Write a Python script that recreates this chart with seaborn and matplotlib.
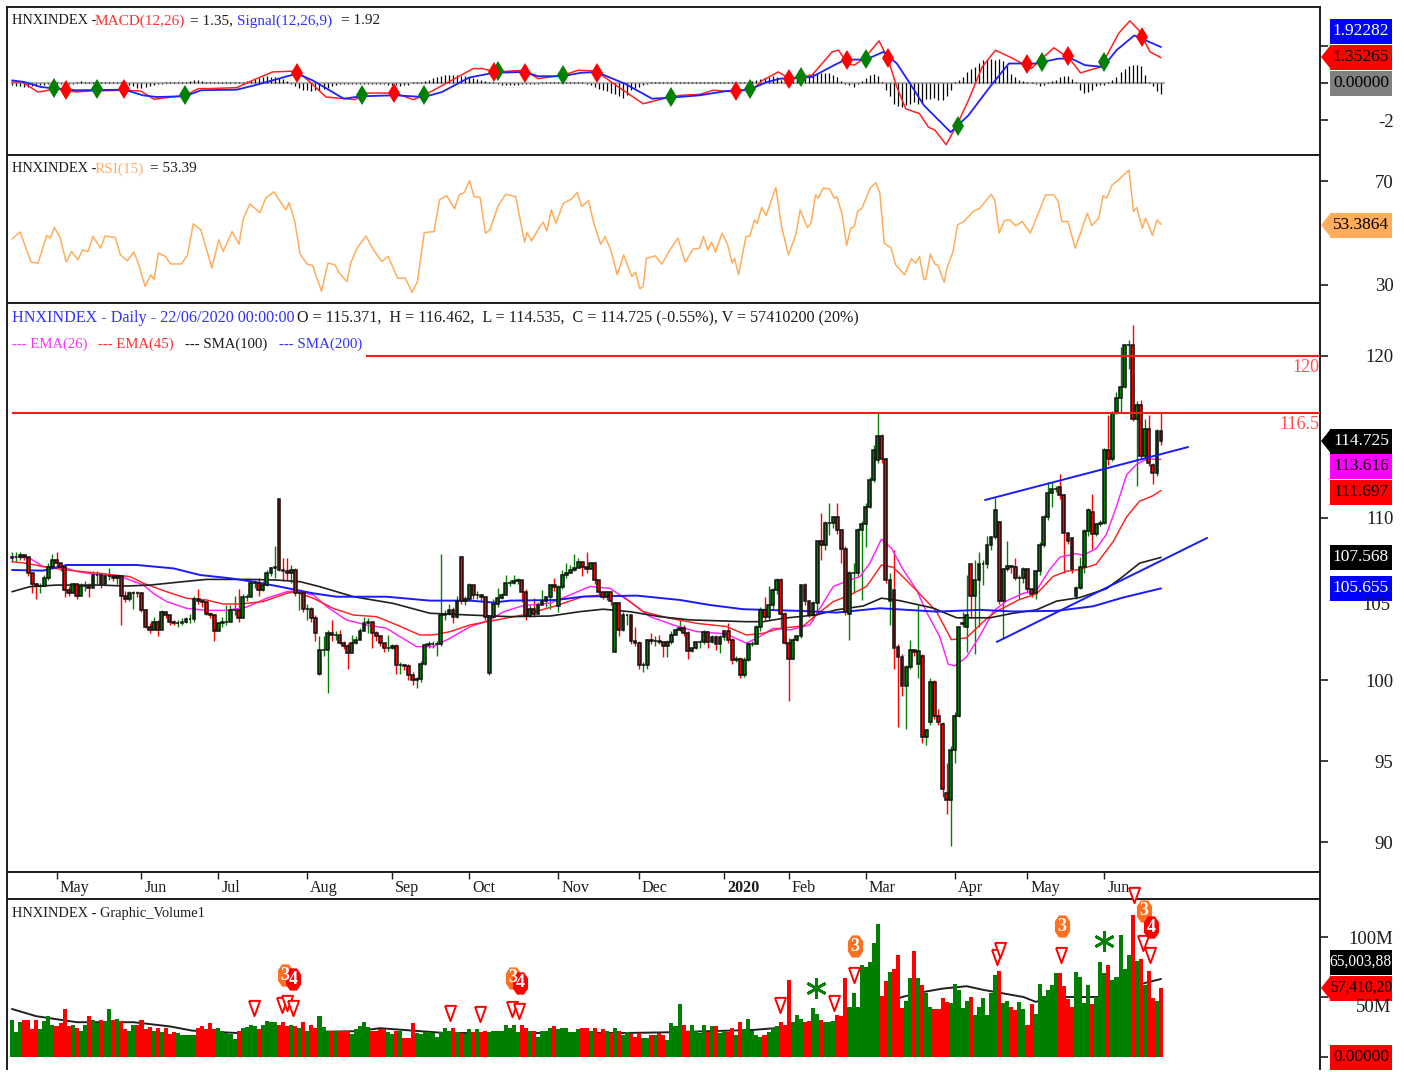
import numpy as np
import matplotlib
matplotlib.use('Agg')
import matplotlib.pyplot as plt
from matplotlib.patches import Rectangle, Polygon
import seaborn as sns

# Daily bars
opens = [107.5,107.6,107.6,107.7,107.6,106.6,105.9,105.8,105.8,106.3,
         107.0,107.4,107.2,107.0,105.55,105.4,105.9,105.2,105.8,105.8,
         105.7,106.5,106.5,105.9,106.4,106.4,106.3,106.4,105.2,105.0,
         105.35,105.4,105.35,104.3,103.3,103.1,103.6,103.1,104.2,104.0,
         103.6,103.5,103.5,103.6,103.75,103.75,105.0,104.9,104.8,104.1,
         104.0,103.0,103.5,103.55,103.6,104.3,104.3,103.8,105.1,105.15,
         106.0,106.0,105.55,105.85,106.6,106.9,111.15,106.8,106.75,106.6,
         106.8,105.35,105.35,104.4,104.4,103.8,100.4,101.85,101.85,102.9,
         102.8,102.8,102.3,102.1,101.65,102.3,102.5,103.0,103.5,103.6,
         102.9,102.7,102.3,102.0,102.0,102.1,100.9,100.9,100.85,100.3,
         100.0,100.05,101.0,102.15,102.25,102.25,102.25,104.0,104.05,104.35,
         103.9,107.6,104.85,105.0,105.85,105.25,105.25,105.15,100.45,103.9,
         104.7,105.05,105.25,106.0,106.0,106.1,106.15,105.45,103.95,104.4,
         104.1,104.6,104.85,105.1,105.85,104.55,105.75,106.5,106.6,106.8,
         106.9,107.3,107.0,106.85,107.2,106.2,105.45,105.15,105.45,101.75,
         104.75,103.1,104.0,104.0,102.4,102.3,100.9,100.9,102.5,102.4,
         102.4,102.35,102.1,102.35,102.8,103.1,103.2,102.9,101.8,101.95,
         102.35,102.35,102.95,102.35,102.65,102.25,102.65,103.0,102.5,101.25,
         101.3,100.3,101.25,102.25,102.25,103.3,104.3,103.9,104.65,105.55,
         106.2,104.1,102.3,101.3,102.5,102.7,105.85,104.85,104.0,104.75,
         108.55,108.35,109.7,109.7,110.05,109.25,108.1,104.1,106.6,106.6,
         109.25,109.6,110.7,112.35,113.6,115.05,113.64,104.9,105.55,102.05,
         101.4,99.6,100.8,101.85,101.0,101.5,96.5,97.4,99.9,97.8,
         97.3,93.05,92.6,95.7,97.8,103.45,103.25,107.15,105.2,106.2,
         107.15,107.15,108.35,108.8,109.75,104.85,106.85,107.05,107.0,106.3,
         106.3,106.85,105.6,105.4,106.7,108.35,110.05,111.55,111.8,111.9,
         111.4,109.1,108.75,105.2,105.7,107.0,109.2,110.4,109.0,109.6,
         109.7,114.2,113.65,116.55,117.4,118.1,120.67,120.67,116.1,117.0,
         113.85,115.5,113.3,112.75,115.371]
closes = [107.6,107.6,107.7,107.6,106.6,105.9,105.8,105.8,106.3,107.0,
          107.4,107.2,107.0,105.55,105.4,105.9,105.2,105.8,105.8,105.7,
          106.5,106.5,105.9,106.4,106.4,106.3,106.4,105.2,105.0,105.35,
          105.4,105.35,104.3,103.3,103.1,103.6,103.1,104.2,104.0,103.6,
          103.5,103.5,103.6,103.75,103.75,105.0,104.9,104.8,104.1,104.0,
          103.0,103.5,103.55,103.6,104.3,104.3,103.8,105.1,105.15,106.0,
          106.0,105.55,105.85,106.6,106.9,107.0,106.8,106.75,106.6,106.8,
          105.35,105.35,104.4,104.4,103.8,102.9,101.85,101.85,102.9,102.8,
          102.8,102.3,102.1,101.65,102.3,102.5,103.0,103.5,103.6,102.9,
          102.7,102.3,102.0,102.0,102.1,100.9,100.9,100.85,100.3,100.0,
          100.05,101.0,102.15,102.25,102.25,102.25,104.0,104.05,104.35,103.9,
          104.85,104.85,105.0,105.85,105.25,105.25,105.15,103.9,103.9,104.7,
          105.05,105.25,106.0,106.0,106.1,106.15,105.45,103.95,104.4,104.1,
          104.6,104.85,105.1,105.85,105.75,105.75,106.5,106.6,106.8,106.9,
          107.3,107.0,106.85,107.2,106.2,105.45,105.15,105.45,104.85,104.75,
          103.1,104.0,104.0,102.4,102.3,100.9,100.9,102.5,102.4,102.4,
          102.35,102.1,102.35,102.8,103.1,103.2,102.9,101.8,101.95,102.35,
          102.35,102.95,102.35,102.65,102.25,102.65,103.0,102.5,101.25,101.3,
          100.3,101.25,102.25,102.25,103.3,104.3,103.9,104.65,105.55,106.2,
          104.1,102.3,101.3,102.5,102.7,105.85,104.85,104.0,104.75,108.55,
          108.35,109.7,109.7,110.05,109.25,108.1,104.2,106.6,106.6,109.25,
          109.6,110.7,112.35,114.2,115.05,113.64,106.2,106.2,102.0,101.4,
          99.6,100.8,101.85,101.75,101.8,96.5,96.9,99.9,97.8,97.4,
          93.3,92.6,95.7,97.8,103.25,103.5,104.0,105.2,106.2,107.15,
          107.15,108.35,108.8,110.5,104.85,106.85,107.05,107.0,106.3,106.3,
          106.85,105.6,105.3,106.7,108.35,110.05,111.55,111.8,111.8,111.4,
          109.1,108.55,106.85,105.7,107.0,109.2,110.5,109.0,109.6,109.7,
          114.2,113.65,116.45,117.4,118.1,120.67,120.67,116.1,117.0,113.85,
          115.5,113.4,112.75,115.4,114.725]
highs = [107.9,107.9,107.9,107.8,106.8,106.6,106.0,106.0,106.5,107.2,
         107.8,107.9,107.2,107.1,105.8,106.0,105.9,106.0,106.1,106.0,
         106.7,106.7,106.6,106.6,106.9,106.5,106.5,106.5,105.5,105.5,
         105.5,105.5,105.45,104.4,103.5,103.9,103.7,104.3,104.2,104.0,
         103.7,103.7,103.8,103.9,104.1,105.2,105.6,105.0,104.9,104.2,
         104.1,103.6,103.9,104.6,104.6,105.2,105.6,105.3,105.3,106.2,
         106.2,106.3,106.1,106.8,107.0,108.3,111.2,107.5,107.5,107.1,
         106.9,105.5,105.4,104.7,104.5,104.0,102.7,102.7,103.1,103.7,
         103.0,103.1,102.4,102.3,102.8,102.7,103.2,103.9,103.8,103.2,
         103.0,102.7,102.3,102.8,102.2,102.2,101.1,101.0,101.0,100.5,
         100.2,101.2,102.3,102.4,102.4,102.4,107.8,104.3,104.7,104.5,
         105.2,107.65,105.2,106.0,105.7,105.5,105.3,105.2,103.95,105.0,
         105.65,105.4,106.5,106.2,106.5,106.3,106.2,105.6,104.6,105.05,
         104.8,105.55,105.2,105.9,106.3,105.85,106.8,107.2,107.1,107.8,
         107.5,107.2,107.9,107.3,106.4,105.6,105.3,105.5,105.1,104.8,
         104.8,104.2,104.1,104.0,103.3,102.4,101.1,102.55,102.9,102.7,
         102.8,102.4,102.5,103.0,103.2,103.7,103.4,103.0,102.0,102.4,
         102.5,103.1,102.9,102.8,102.8,102.8,103.1,103.5,102.6,101.5,
         101.4,101.4,102.35,102.4,103.4,104.5,105.15,105.8,105.7,106.3,
         106.3,104.2,102.6,102.6,102.8,105.9,106.0,104.9,104.9,108.6,
         110.3,109.8,110.9,110.1,110.9,109.3,108.3,106.7,107.2,109.4,
         109.8,110.9,112.5,114.5,116.5,115.2,113.7,106.6,108.0,102.2,
         101.6,100.9,102.5,101.9,104.65,101.6,97.0,100.1,100.0,98.2,
         97.4,94.9,95.9,98.0,103.3,104.2,106.5,107.2,107.4,107.9,
         107.4,108.9,108.9,111.25,109.8,106.9,108.55,107.1,107.5,106.5,
         107.0,106.9,105.7,106.8,108.5,110.2,112.2,112.2,112.0,112.7,
         111.5,108.7,108.8,105.8,107.6,109.3,110.6,111.5,109.7,109.9,
         114.3,116.35,116.6,117.75,120.55,120.75,121.0,121.9,117.2,117.3,
         116.1,116.35,113.4,115.5,116.462]
lows = [107.3,107.3,107.4,107.4,106.4,105.4,105.0,105.4,106.0,106.2,
        107.0,107.0,106.7,105.1,105.2,105.6,105.0,105.6,105.5,105.1,
        106.2,105.9,105.7,106.1,106.2,106.1,105.9,103.4,104.8,104.9,
        104.4,105.1,104.2,103.2,102.9,103.3,102.7,103.9,103.8,103.4,
        103.4,103.3,103.4,103.5,103.5,103.6,104.7,104.5,104.0,103.8,
        102.4,103.3,103.3,103.4,103.9,104.0,103.6,104.4,104.9,105.5,
        105.7,105.2,105.5,105.8,106.4,106.3,106.7,106.1,106.2,106.0,
        105.2,104.3,104.2,103.7,103.6,102.4,100.3,101.5,99.2,102.4,
        102.5,102.2,101.9,100.7,102.0,102.2,102.7,103.2,102.9,102.0,
        102.4,102.1,101.7,101.8,101.9,100.4,100.4,100.6,100.0,99.7,
        99.5,99.9,100.9,102.0,102.0,101.5,102.1,103.7,104.0,103.5,
        103.8,104.7,104.6,104.9,105.0,105.0,104.9,103.7,100.3,103.8,
        104.5,105.0,105.6,105.8,105.9,105.9,104.8,103.7,103.9,103.9,
        104.4,104.6,104.5,104.4,105.5,104.2,105.6,106.3,106.6,106.7,
        107.0,106.4,106.6,106.9,105.9,105.2,105.0,104.95,104.6,101.7,
        102.7,103.0,103.4,102.2,102.1,100.7,100.5,100.7,102.2,102.1,
        102.2,101.4,101.4,102.2,102.9,103.0,102.7,101.3,101.7,101.9,
        101.95,102.2,101.95,102.3,101.85,101.65,102.5,102.3,101.0,101.1,
        100.1,100.2,101.2,102.1,102.2,103.0,103.7,103.7,104.4,105.3,
        103.3,102.2,98.7,101.3,102.4,102.6,104.6,103.9,103.7,104.0,
        107.4,108.0,108.95,109.4,109.0,107.2,104.0,102.5,105.35,106.4,
        104.95,108.2,110.6,112.2,113.4,113.4,106.0,103.4,100.65,97.1,
        99.0,97.0,100.7,101.5,100.1,96.1,96.0,97.2,97.6,97.2,
        92.75,91.7,89.75,94.9,97.7,103.3,101.75,103.8,101.6,103.25,
        105.85,106.9,108.0,108.7,104.7,102.6,106.7,106.6,106.2,105.0,
        106.0,105.4,105.1,105.0,106.5,108.2,109.9,110.7,111.6,111.2,
        106.6,108.4,106.6,105.0,105.6,106.6,108.9,108.1,108.9,109.5,
        109.6,113.3,113.5,116.4,116.5,118.0,119.2,116.0,112.0,113.7,
        113.6,113.2,112.1,112.6,114.535]
volumes = [31,21,29,31,31,23,31,23,30,34,
           27,26,28,40,26,27,24,22,27,34,
           31,28,31,29,40,31,32,30,23,22,
           27,27,31,23,25,22,24,21,24,19,
           21,20,18,18,18,18,24,26,23,28,
           23,24,22,20,19,15,22,24,25,27,
           26,23,27,30,29,29,27,29,26,27,
           26,24,29,22,27,24,34,25,22,22,
           22,22,22,22,19,23,26,29,25,22,
           22,23,23,21,19,22,22,16,16,28,
           20,19,21,21,20,17,21,24,22,24,
           21,20,19,23,21,23,21,22,21,22,
           22,22,27,24,27,21,27,24,22,22,
           17,22,22,24,26,23,24,24,21,21,
           23,24,24,22,24,20,23,22,20,24,
           22,18,21,19,17,20,16,16,18,18,
           20,18,14,28,26,44,27,22,27,22,
           20,27,21,26,26,20,22,21,24,18,
           29,23,32,22,18,17,18,21,24,26,
           29,27,64,29,35,32,29,30,41,36,
           31,29,29,30,35,34,66,42,53,42,
           77,75,79,95,111,51,63,71,73,85,
           41,47,66,88,66,60,53,42,40,40,
           49,46,45,61,56,41,47,50,35,42,
           49,35,53,68,72,45,47,42,39,46,
           40,27,44,36,61,51,56,60,70,70,
           59,48,42,71,67,45,60,44,50,79,
           70,77,64,67,102,73,85,118,80,82,
           60,72,49,47,57.41]
macd_hist = [-.12,-.15,-.18,-.2,-.2,-.18,-.15,-.12,-.1,-.08,
             .06,.06,-.06,.06,-.06,-.08,.06,.08,.06,.05,
             .04,.05,.06,.05,.06,.06,.05,.04,-.08,-.1,
             -.15,-.25,-.25,-.2,-.15,-.1,-.06,-.05,.05,.05,
             .05,.05,.05,.06,.12,.15,.15,.1,.05,.04,
             .04,.05,.05,.05,.04,.05,.05,.06,.08,.12,
             .2,.25,.3,.35,.3,.3,.25,.2,.1,-.06,
             -.15,-.25,-.35,-.4,-.45,-.4,-.35,-.3,-.25,-.15,
             -.1,-.08,-.06,-.06,-.05,-.08,-.06,-.05,-.06,-.05,
             -.06,-.05,-.05,-.1,-.1,-.1,-.15,-.12,-.1,.05,
             .06,.06,.1,.18,.25,.3,.35,.4,.42,.45,
             .4,.38,.35,.3,.25,.2,.15,.1,.05,.04,
             -.06,-.12,-.12,-.12,-.1,-.1,-.05,-.05,-.06,-.08,
             -.05,.05,.05,.05,.05,.06,.05,.04,.04,.05,
             .05,.05,-.04,-.12,-.2,-.3,-.38,-.45,-.55,-.6,
             -.7,-.8,-.65,-.4,-.25,-.2,-.1,-.06,.05,.05,
             .04,.04,.04,.04,.04,.04,.04,.04,.04,.04,
             .04,.04,.04,.04,.04,.04,.04,.04,.04,.04,
             .04,.04,.05,.1,.15,.2,.25,.3,.35,.3,
             .15,.1,.08,.1,.2,.3,.4,.5,.55,.55,
             .55,.55,.55,.45,.3,.1,-.05,-.1,-.2,-.05,
             .1,.25,.4,.5,.35,.05,-.4,-.7,-1.1,-1.25,
             -1.3,-1.2,-1.1,-1.0,-1.15,-1.05,-.85,-.85,-.8,-.9,
             -.9,-.7,-.4,.05,.15,.3,.6,.75,.85,1.05,
             1.25,1.3,1.3,1.25,1.3,1.15,.9,.5,.3,.15,
             .08,.05,.04,-.08,-.15,-.1,.05,.1,.15,.3,
             .35,.35,.2,.05,-.35,-.55,-.5,-.35,-.15,-.12,
             -.1,.05,.15,.3,.6,.75,.9,.95,.95,.9,
             .4,.05,-.15,-.45,-.57]

# Moving averages: bar position, value
ema26_x = [0,4.4,7.7,13.5,16,20.9,26.7,32.5,34.9,38.2,43.2,48.1,53,58,62.9,67.9,69.9,74.5,77.8,82.7,87.6,92.6,95.9,100,104.1,108.2,113.2,
           118.1,121.4,126.4,133,137.9,142.8,147.8,152.7,157.7,163.4,169.2,176.6,181.5,184.8,188.1,192.3,197.2,199.7,203,207.1,209.6,212,214.9,217.4,220.3,223.6,226,229.3,
           231.4,233,235.9,239.2,242.5,245.8,249.9,253.2,256.5,259,263.1,264.7,268,270.5,273,275.5,278,280.4,284]
ema26_y = [107.61,107.51,107.0,106.9,106.7,106.5,106.4,105.86,105.35,104.84,104.42,104.3,104.3,104.5,105.04,105.45,105.5,105.25,104.53,103.7,103.4,103.19,102.67,102.06,102.06,102.57,103.29,
           103.7,104.2,104.6,104.74,105.25,105.77,105.66,104.84,103.91,103.4,102.99,102.84,102.27,102.68,103.19,103.09,103.4,104.43,105.77,106.18,106.38,107.2,108.69,108.13,106.79,105.56,104.22,102.68,
           100.98,100.87,101.41,102.71,104.23,104.88,105.35,105.52,106.82,107.58,107.8,107.69,108.12,108.99,110.72,112.67,113.32,113.64,113.616]
ema45_x = [0,3.6,7.7,13.5,21.7,29.2,32.5,38.2,43.2,48.1,52.2,56.3,62.1,67.9,69.9,74.5,79.4,84.4,90.1,95.1,100.8,104.1,108.2,113.2,
           119.8,126.4,133.8,141.2,146.1,151.1,156,162.6,169.2,176.6,181.5,185.7,189.8,195.6,198.8,203,207.1,211.2,214.9,217.8,
           223.6,228.5,232.2,235.9,240.9,243.3,249.1,253.2,257.3,260.6,263.9,268,272.2,275.5,278.7,282,284]
ema45_y = [107.3,107.2,107.0,106.79,106.58,106.38,105.97,105.45,105.04,104.94,104.69,104.69,104.84,105.35,105.45,105.04,104.42,104.01,103.91,103.4,102.78,102.78,102.98,103.4,
           103.71,104.02,104.53,105.15,105.25,105.15,104.22,103.81,103.5,103.3,102.78,102.88,103.19,103.34,104.02,104.84,105.25,105.77,107.1,106.96,
           105.52,104.23,102.49,102.6,103.79,104.23,104.98,105.31,106.39,106.71,106.82,107.15,108.55,110.07,111.04,111.37,111.697]
sma100_x = [0,4.4,11,21.7,28.3,34.1,42.3,48.1,58.8,65.4,71.2,76.1,84.4,94.2,103.3,113.2,
            123.1,133,140.4,146.1,152.7,160.1,167.5,181.5,185.7,190.6,198.8,203.8,210.4,214.9,219.4,
            227.7,233.5,241.7,247.4,253.2,258.2,263.9,270.5,274.6,278.7,284]
sma100_y = [105.45,105.76,105.86,105.86,105.8,105.86,106.07,106.21,106.21,106.17,106.07,105.76,105.14,104.73,104.12,104.01,
            103.91,103.95,104.22,104.37,104.22,103.91,103.71,103.6,103.6,103.81,104.02,104.33,104.57,105.05,104.9,
            104.44,103.84,103.84,104.12,104.33,104.87,105.09,105.63,106.39,107.21,107.568]
sma200_x = [0,7.7,13.5,30.8,39.9,46.5,53.9,59.6,65.4,74.5,80.2,92.6,103.3,113.2,
            118.9,123.1,134.6,141.2,154.4,165.1,172.5,180.7,195.6,203.8,214.5,228.6,
            239.2,247.4,258.2,267.2,274.6,284]
sma200_y = [106.79,106.75,107.1,107.1,106.89,106.48,106.28,106.07,105.8,105.35,105.14,105.14,104.9,104.9,
            104.78,104.9,104.94,105.15,105.21,104.94,104.63,104.37,104.26,104.16,104.43,104.22,
            104.33,104.23,104.27,104.55,105.09,105.655]

# Two price levels and two drawn trend lines
level_values = [120, 116.5]
level_starts = [87.5, 0]
trend1_x = [240.5, 290.7]
trend1_y = [111.11, 114.38]
trend2_x = [243.4, 295.4]
trend2_y = [102.35, 108.77]

# MACD lines
macd_x = [0,2.5,6.4,8.1,10.8,15.8,19.6,27.9,31.8,35.1,42.8,46.1,48.9,55.5,59.9,64.4,70.4,73.2,77.6,84.8,87.5,94.7,99.1,101.9,105.7,114,116.2,119.5,126.7,130,136.1,140,144.4,149.3,156,162.6,165.3,
          170,173.3,178.9,183.3,185.5,189.4,192.1,197.7,202.7,204.3,206.5,208.2,211,214.3,216.5,218.7,220.9,224.3,226.5,228.1,230.9,233.7,236.4,239.8,243.1,247.5,251.9,257.5,261.4,264.1,269.1,273.5,276.3,278.5,281.3,284]
macd_y = [.05,.05,-.48,-.43,-.3,-.48,-.43,-.39,-.43,-.87,-.66,-.3,-.3,-.25,.18,.59,.64,.14,-.75,-.89,-.54,-.54,-.89,-.66,-.21,.77,.77,.59,.68,.23,.41,.68,.64,-.13,-1.11,-.75,-.66,
          -.61,-.39,-.48,-.3,.14,.59,.23,.41,1.66,1.75,1.04,.95,1.39,2.25,1.3,-.21,-1.38,-1.64,-2.36,-2.52,-3.3,-2.18,-.93,.86,1.75,1.3,.77,1.88,1.3,.54,.86,2.64,3.32,2.82,1.66,1.35]
signal_x = [0,3.1,7,10.8,15.8,27.9,32.3,35.7,42.8,46.7,55.5,59.9,64.4,70.4,74.3,82,86.4,94.7,101.9,106.3,113,119,126.7,130,136.1,140.5,144.4,151.5,158.2,162.6,
            170,176.6,182.2,186.6,189.9,197.7,203.2,206,211,215.4,218.7,222,225.4,232,236.4,242,246.4,253,258.6,261.9,265.2,269.7,273,277.4,284]
signal_y = [.14,.05,-.21,-.3,-.39,-.36,-.66,-.75,-.71,-.39,-.36,-.13,.14,.5,.14,-.84,-.71,-.66,-.75,-.48,.29,.54,.59,.36,.36,.54,.59,-.04,-.84,-.79,
            -.66,-.43,-.36,.05,.23,.32,.95,1.25,1.25,1.66,1.04,-.04,-1.2,-2.63,-1.73,-.13,1.04,1.04,1.3,1.3,.95,.86,1.75,2.54,1.92]
cross_up_x = [10.5,21.1,42.8,86.4,101.9,120.1,136.1,162.8,182.5,194.9,211,233.7,254.7,269.9]
cross_up_y = [-.25,-.34,-.66,-.66,-.66,.63,.41,-.75,-.34,.32,1.30,-2.29,1.13,1.13]
cross_dn_x = [13.4,27.7,70.4,94.4,119.2,126.7,144.6,178.9,192.1,206.3,216.5,250.8,261.1,279.4]
cross_dn_y = [-.36,-.34,.55,-.54,.57,.55,.55,-.43,.21,1.21,1.36,1.04,1.43,2.46]

# RSI line
rsi_x = [0,2,4.7,6.4,8.6,9.4,10.5,11.9,13.4,14.7,16.3,17.4,18.8,20,21.9,23,25.5,26.8,28.5,30.1,31.2,32.9,34.3,35.1,36.2,37.9,39.2,41.9,43.4,44.8,46.7,49.4,51.1,52.2,54.4,56.1,57.2,58.8,61.3,62.7,64.7,66,67.7,68.5,69.9,71.2,73,74.3,76.5,78.1,79.8,80.9,82.8,83.7,85.3,87.5,89.2,91.4,93,95.3,97.2,98.9,100.2,101.9,104.3,105.7,107.4,109.4,110.5,111.8,113.1,114.2,115.7,117,118.1,120.1,122,124.5,126.7,127.3,128.4,130,131.3,132.2,133.3,134.4,136.3,138.3,139.7,140.8,142.5,143.8,145.5,146.6,148,149.6,151.2,153.2,154.1,155.2,156,156.8,159,160.6,162.6,164.6,166.4,168.3,170,
         170.9,172,172.9,173.9,175.5,176.9,178,178.6,179.6,181.4,182.4,183.5,184.2,185.3,186.4,188.8,190.2,191.9,193.8,194.8,196.6,197.5,198.6,199.3,200.5,202.1,203.2,203.9,205.2,206.3,207.3,208.2,209,210.1,212.1,213.5,214.5,215.6,217.3,218.4,220.6,222.3,223.4,224.3,225.4,225.9,227,228.1,228.9,230.4,231.1,232.6,233.7,235.3,237.6,239.2,242,242.9,244,245.3,246.6,248.1,249.7,251.7,255.5,257.5,258.6,259.5,261,262.8,265.8,266.9,268.6,269.7,270.6,271.9,273.5,276.1,277.2,278,279.4,280.2,281.9,283,284]
rsi_y = [47.8,50.4,38.8,38.4,49.1,48.1,52.2,48.1,38.8,42.9,39.7,43.5,42.9,48.7,44.2,48.9,48.3,41.6,39.3,42.7,38.4,29.4,33.9,32,42.3,41,38.1,38.1,41.6,53.6,51.3,36.5,47.4,42.9,50.6,45.7,55.8,61.3,57.9,63.5,66,62.9,59,61.8,54.5,41.9,38,37.5,27.5,38.4,37.8,34.5,31.3,38.4,44.2,48.9,43.9,39,41,32.6,32.6,27.1,31.3,50.2,50.6,62.9,64.5,59.4,64.8,65.7,70.3,64.1,63.8,50,51.3,60.3,65,64.1,46.5,50.2,47,51.3,54.2,50.9,59,53.8,61.6,63.2,65.7,60.3,62.6,53.8,45.7,48.7,43.5,33.9,41.6,33.2,34.9,28.5,29.4,40.3,41.2,38,43.5,48.1,38.8,43.8,44.2,
         48.7,43.5,46.5,42.7,50,45.5,38.4,40.3,33.9,48.7,48.9,55.1,53.8,59.9,56.8,67.7,52.6,41.6,49.7,59,52.2,53.8,64.8,63.5,67.4,67.1,63.5,64.1,57.1,45.2,51.9,52.6,58.4,59.6,67.4,69.5,65.4,46.1,44.2,37.8,33.9,40.1,38.4,41,32,32.4,41.9,38,37.5,31,36.5,42.9,53.2,54.5,58.4,59.6,65,62.9,50,54.9,55.1,52.8,54.5,50,64.8,64.8,62.2,54.5,54.5,44.2,57.7,52.9,55.8,64.5,63.5,68.6,70.6,74.4,58.4,59.9,51.9,55.8,49.1,55.1,53.39]

# Volume average and signal marks
vol_ma_x = [0,6,16,30,39,44.5,55.5,85,91,107,151,161,183,192,200,209,214,220,225,230,236,240,245,250,253,259,270,278,284]
vol_ma_y = [40,34,29,29,25.5,22,20,21.5,24,20,20,20.5,22.5,25,27,33,42,50,54,57,59,56,53,50,46,50,50,60,65]
sell_x = [59.8,66.7,68,69.5,108.3,115.7,123.6,125.3,189.8,203.2,208.1,243.5,244.2,259.3,277.3,279.5,281.3]
sell_y = [41,43,45,41,37,36,40,38,43,45,68,83,89,85,135,95,85]
three_x = [67.5,123.8,208.4,259.5,279.8]
three_y = [68,66,92.5,109,122]
four_x = [69.5,125.6,281.5]
four_y = [65,62,108]
star_x = [198.7,270]
star_y = [57.5,97]

# Month axis
month_pos = [11,32,51,73,94,113,135,155,176,192,211,233,251,270]
month_names = ['May','Jun','Jul','Aug','Sep','Oct','Nov','Dec','2020','Feb','Mar','Apr','May','Jun']

bar_idx = np.arange(len(closes))
is_up = np.array(closes) >= np.array(opens)
bar_colors = np.where(is_up, '#008000', '#ff0000')
WIDTH, HEIGHT = 1404, 1072
DARK = '#1c1c1c'

# tall hollow triangle and tall octagon, as in the signal marks
TRIANGLE = [(-6.5, 9), (6.5, 9), (0, -9), (-6.5, 9)]
OCTAGON = [(-3.5, 11), (3.5, 11), (7.5, 5), (7.5, -5), (3.5, -11), (-3.5, -11), (-7.5, -5), (-7.5, 5), (-3.5, 11)]

sns.set_theme(style='white')
plt.rcParams['font.family'] = ['Liberation Serif', 'DejaVu Sans']
fig = plt.figure(figsize=(WIDTH / 100, HEIGHT / 100), dpi=100, facecolor='white')


def panel(top, bottom):
    # axes box from pixel rows
    ax = fig.add_axes([7 / WIDTH, 1 - bottom / HEIGHT, 1313 / WIDTH, (bottom - top) / HEIGHT])
    ax.set_xlim(-1.24, 323.3)
    ax.set_xticks([])
    for side in ax.spines:
        ax.spines[side].set_color(DARK)
        ax.spines[side].set_linewidth(1.4)
    ax.yaxis.tick_right()
    ax.tick_params(axis='y', length=6, width=1.2, color=DARK, pad=47, labelsize=13.5, labelcolor=DARK, right=True)
    return ax


def set_right_ticks(ax, ticks, labels):
    ax.set_yticks(ticks)
    ax.set_yticklabels(labels, ha='right')


def label(x, y, s, color=DARK, size=11.6, **kw):
    fig.text(x / WIDTH, 1 - y / HEIGHT, s, color=color, fontsize=size, va='center', **kw)


def value_box(y, s, fill, ink, arrow=False):
    h = 12.5
    fig.add_artist(Rectangle((1330 / WIDTH, 1 - (y + h) / HEIGHT), 62 / WIDTH, 2 * h / HEIGHT,
                             transform=fig.transFigure, fc=fill, ec='none'))
    if arrow:
        pts = [(1321, y), (1331, y - h), (1331, y + h)]
        fig.add_artist(Polygon([(a / WIDTH, 1 - b / HEIGHT) for a, b in pts],
                               transform=fig.transFigure, fc=fill, ec='none'))
    fig.text(1361 / WIDTH, 1 - y / HEIGHT, s, color=ink, fontsize=12.5 if len(s) < 8 else 11.2,
             ha='center', va='center')


def line(ax, xs, ys, color, lw=1.2, z=3):
    sns.lineplot(x=xs, y=ys, color=color, linewidth=lw, ax=ax, sort=False, estimator=None, zorder=z, legend=False)
    ax.set_xlabel('')
    ax.set_ylabel('')


# MACD panel
ax1 = panel(7, 155)
ax1.axhline(0, xmin=0.004, xmax=0.881, color='#b0b0b0', lw=1.6, zorder=1)
ax1.vlines(bar_idx, 0, macd_hist, color='black', lw=0.9, zorder=2)
line(ax1, macd_x, macd_y, '#ff2020', 1.1)
line(ax1, signal_x, signal_y, '#2020ff', 1.3)
ax1.plot(cross_up_x, cross_up_y, 'd', color='#008000', ms=10, mew=0, zorder=4)
ax1.plot(cross_dn_x, cross_dn_y, 'd', color='#ff0000', ms=10, mew=0, zorder=4)
ax1.set_ylim(-3.85, 4.06)
ax1.set_xlim(-1.24, 323.3)
set_right_ticks(ax1, [-2, 0, 2], ['-2', '', ''])

# RSI panel
ax2 = panel(155, 303)
line(ax2, rsi_x, rsi_y, '#ffad5c', 1.1)
ax2.set_ylim(23, 80.2)
ax2.set_xlim(-1.24, 323.3)
set_right_ticks(ax2, [30, 70], ['30', '70'])

# Price panel
ax3 = panel(303, 872)
line(ax3, ema26_x, ema26_y, '#ff20ff', 1.05)
line(ax3, ema45_x, ema45_y, '#ff2020', 1.05)
line(ax3, sma100_x, sma100_y, '#202020', 1.2)
line(ax3, sma200_x, sma200_y, '#1a1aff', 1.4)
ax3.vlines(bar_idx, lows, highs, colors=bar_colors, lw=1.0, zorder=2)
ax3.bar(bar_idx, np.array(closes) - np.array(opens), bottom=opens, width=0.7, color=bar_colors,
        edgecolor='#101010', linewidth=1.1, zorder=4)
for value, start in zip(level_values, level_starts):
    ax3.hlines(value, start, 323.3, color='#ff1a1a', lw=1.5, zorder=5)
line(ax3, trend1_x, trend1_y, '#1a1aff', 1.4, 6)
line(ax3, trend2_x, trend2_y, '#1a1aff', 1.4, 6)
ax3.set_ylim(88.15, 123.27)
ax3.set_xlim(-1.24, 323.3)
set_right_ticks(ax3, [90, 95, 100, 110, 120], ['90', '95', '100', '110', '120'])

# Month strip
ax4 = panel(872, 899)
ax4.set_yticks([])
ax4.xaxis.tick_top()
ax4.set_xticks(month_pos)
ax4.set_xticklabels([])
ax4.tick_params(axis='x', direction='in', length=5, width=1, color=DARK, top=True)
for pos, name in zip(month_pos, month_names):
    ax4.text(pos + 0.7, 0.42, name, color=DARK, fontsize=11.6, va='center', ha='left',
             fontweight='bold' if name == '2020' else 'normal', transform=ax4.get_xaxis_transform())

# Volume panel
ax5 = panel(899, 1069)
ax5.spines['bottom'].set_visible(False)
sns.barplot(x=bar_idx, y=volumes, hue=np.where(is_up, 'up', 'down'), palette={'up': '#008000', 'down': '#ff0000'},
            native_scale=True, dodge=False, width=1, saturation=1, linewidth=0, legend=False, ax=ax5)
# the average sits behind the bars
line(ax5, vol_ma_x, vol_ma_y, '#202020', 1.4, 0.5)
ax5.plot(sell_x, sell_y, marker=TRIANGLE, ls='', mfc='white', mec='#ff0000', mew=1.4, ms=11, zorder=5, clip_on=False)
ax5.plot(star_x, star_y, marker=(6, 2, 0), ls='', color='#008000', mew=2, ms=15, zorder=5)
for xs, ys, col, digit in [(three_x, three_y, '#ff7020', '3'), (four_x, four_y, '#ff0000', '4')]:
    ax5.plot(xs, ys, marker=OCTAGON, ls='', color=col, ms=16, mew=0, zorder=6)
    for a, b in zip(xs, ys):
        ax5.text(a, b, digit, color='white', fontsize=13, fontweight='bold', ha='center', va='center', zorder=7)
ax5.set_ylim(-10, 131.67)
ax5.set_xlim(-1.24, 323.3)
ax5.set_xticks([])
set_right_ticks(ax5, [0, 50, 100], ['', '', '100M'])

# Indicator headings
label(12, 21, 'HNXINDEX -', size=10.4)
label(95, 21, 'MACD(12,26)', color='#ff3030', size=11)
label(190, 21, '= 1.35,', size=11)
label(237, 21, 'Signal(12,26,9)', color='#3030ff', size=11)
label(341, 21, '= 1.92', size=11)
label(12, 169, 'HNXINDEX -', size=10.4)
label(95, 169, 'RSI(15)', color='#ffb070', size=11)
label(150, 169, '= 53.39', size=11)
label(12, 318, 'HNXINDEX - Daily - 22/06/2020 00:00:00', color='#3030ff')
label(297, 318, 'O = 115.371,  H = 116.462,  L = 114.535,  C = 114.725 (-0.55%), V = 57410200 (20%)')
label(12, 344, '--- EMA(26)', color='#ff30ff', size=10.6)
label(98, 344, '--- EMA(45)', color='#ff3030', size=10.6)
label(185, 344, '--- SMA(100)', size=10.6)
label(279, 344, '--- SMA(200)', color='#3030ff', size=10.8)
label(12, 914, 'HNXINDEX - Graphic_Volume1', size=10.4)
label(1319, 367, '120', color='#ff5050', size=13, ha='right')
label(1319, 425, '116.5', color='#ff5050', size=13, ha='right')
# part of these two peek out under the tags
label(1391, 606, '105', size=13.5, ha='right')
label(1391, 1008, '50M', size=13.5, ha='right')

# Last-value tags on the right
value_box(31, '1.92282', '#0000ff', 'white')
value_box(83, '0.00000', '#808080', 'black')
value_box(57, '1.35265', '#ff0000', 'black', arrow=True)
value_box(225, '53.3864', '#ffad5c', 'black', arrow=True)
value_box(441, '114.725', 'black', 'white', arrow=True)
value_box(466, '113.616', '#ff00ff', 'black')
value_box(492, '111.697', '#ff0000', 'black')
value_box(557, '107.568', 'black', 'white')
value_box(588, '105.655', '#0000ff', 'white')
value_box(962, '65,003,88', 'black', 'white')
value_box(988, '57,410,20', '#ff0000', 'black', arrow=True)
value_box(1057, '0.00000', '#ff0000', 'black')

fig.savefig('out.png', dpi=100, facecolor='white')
